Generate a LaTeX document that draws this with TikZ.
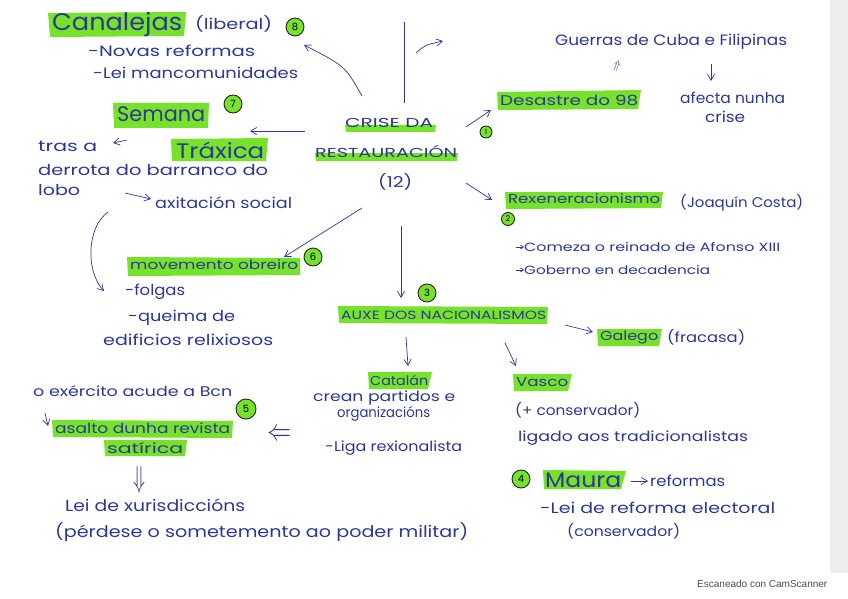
\documentclass[tikz,border=0pt]{standalone}
\usepackage{fontspec}
\usepackage{graphicx}
\setmainfont{Poppins}
\newfontfamily\scanfont{Liberation Sans}
\usetikzlibrary{arrows.meta}
\definecolor{ink}{RGB}{45,55,150}
\definecolor{hlg}{RGB}{118,226,44}
\newcommand{\fw}[2]{\resizebox{#1pt}{\height}{#2}}
\newcommand{\fs}[1]{\fontsize{#1}{#1}\selectfont}
\tikzset{
  txt/.style={anchor=west, inner sep=0pt, text=ink},
  hl/.style={fill=hlg},
  badge/.style={circle, draw=black!85, fill=hlg, line width=0.9pt, inner sep=0pt, font=\fs{10}, text=black},
  arr/.style={draw=ink, line width=0.7pt, -{Straight Barb[length=6pt,width=7pt]}},
  ln/.style={draw=ink, line width=0.7pt}
}
\begin{document}
\begin{tikzpicture}[x=1pt,y=-1pt]
\useasboundingbox (0,0) rectangle (848,599);
\fill[white] (0,0) rectangle (848,599);
\fill[black!7] (830,0) rectangle (848,573);
% ---- highlights
\fill[hl] (48,13) -- (186,12) -- (184,36) -- (50,37) -- cycle;
\fill[hl] (113,103) -- (209,103) -- (208,128) -- (114,128) -- cycle;
\fill[hl] (171,139) -- (268,138) -- (266,161) -- (172,161) -- cycle;
\fill[hl] (345,125) -- (436,125) -- (435,132) -- (346,132) -- cycle;
\fill[hl] (315,153) -- (458,153) -- (457,161) -- (316,161) -- cycle;
\fill[hl] (497,92) -- (641,90) -- (638,109) -- (498,110) -- cycle;
\fill[hl] (505,192) -- (663,192) -- (661,208) -- (506,209) -- cycle;
\fill[hl] (127,257) -- (300,258) -- (300,275) -- (128,276) -- cycle;
\fill[hl] (338,306) -- (548,307) -- (547,324) -- (339,323) -- cycle;
\fill[hl] (597,329) -- (662,329) -- (659,346) -- (598,346) -- cycle;
\fill[hl] (368,372) -- (432,372) -- (428,389) -- (369,389) -- cycle;
\fill[hl] (513,374) -- (572,374) -- (568,391) -- (514,391) -- cycle;
\fill[hl] (543,470) -- (626,471) -- (621,489) -- (544,489) -- cycle;
\fill[hl] (52,420) -- (233,421) -- (232,438) -- (53,437) -- cycle;
\fill[hl] (104,440) -- (187,440) -- (185,456) -- (105,456) -- cycle;
% ---- texts
\node[txt, font=\fs{24}] (canalejas) at (52,24) {\fw{130}{Canalejas}};
\node[txt, font=\fs{15}] (liberal) at (195,24) {\fw{77}{(liberal)}};
\node[badge, minimum size=18pt] (b8) at (295,27) {8};
\node[txt, font=\fs{15}] (novas) at (88,51) {\fw{167}{-Novas reformas}};
\node[txt, font=\fs{15}] (lei) at (93,73) {\fw{205}{-Lei mancomunidades}};
\node[txt, font=\fs{21}] (semana) at (117,114) {\fw{88}{Semana}};
\node[badge, minimum size=18pt] (b7) at (233,104) {7};
\node[txt, font=\fs{21}] (traxica) at (176,150) {\fw{88}{Tráxica}};
\node[txt, font=\fs{15}] (tras) at (38,146) {\fw{59}{tras a}};
\node[txt, font=\fs{15}] (derrota) at (38,170) {\fw{230}{derrota do barranco do}};
\node[txt, font=\fs{15}] (lobo) at (38,190) {\fw{42}{lobo}};
\node[txt, font=\fs{15}] (axit) at (155,203) {\fw{137}{axitación social}};
\node[txt, font=\fs{13}] (crise) at (345,123) {\fw{88}{CRISE DA}};
\node[txt, font=\fs{13}] (rest) at (315,152) {\fw{142}{RESTAURACIÓN}};
\node[txt, font=\fs{15}] (doce) at (378,182) {\fw{34}{(12)}};
\node[txt, font=\fs{14}] (desastre) at (500,100) {\fw{138}{Desastre do 98}};
\node[badge, minimum size=12pt, font=\fs{7}] (b1) at (486,132) {1};
\node[txt, font=\fs{15}] (guerras) at (555,42) {\fw{232}{Guerras de Cuba e Filipinas}};
\node[text=ink, inner sep=0pt, rotate=-20, font=\fs{12}] (upar) at (617,66) {$\Uparrow$};
\node[txt, font=\fs{15}] (afecta) at (680,98) {\fw{105}{afecta nunha}};
\node[txt, font=\fs{15}] (crise2) at (705,117) {\fw{40}{crise}};
\node[txt, font=\fs{13}] (rexen) at (508,199) {\fw{152}{Rexeneracionismo}};
\node[txt, font=\fs{14}] (costa) at (680,203) {\fw{123}{(Joaquín Costa)}};
\node[badge, minimum size=13pt, font=\fs{8}] (b2) at (508,219) {2};
\node[txt, font=\fs{12}] (comeza) at (524,247) {\fw{256}{Comeza o reinado de Afonso XIII}};
\node[txt, font=\fs{12}] (goberno) at (524,270) {\fw{186}{Goberno en decadencia}};
\node[txt, font=\fs{13}] (obreiro) at (130,265) {\fw{168}{movemento obreiro}};
\node[badge, minimum size=18pt] (b6) at (313,257) {6};
\node[txt, font=\fs{15}] (folgas) at (125,292) {\fw{60}{-folgas}};
\node[txt, font=\fs{15}] (queima) at (128,318) {\fw{107}{-queima de}};
\node[txt, font=\fs{15}] (edif) at (103,340) {\fw{170}{edificios relixiosos}};
\node[txt, font=\fs{12}] (auxe) at (341,315) {\fw{205}{AUXE DOS NACIONALISMOS}};
\node[badge, minimum size=18pt] (b3) at (427,293) {3};
\node[txt, font=\fs{13}] (galego) at (600,337) {\fw{58}{Galego}};
\node[txt, font=\fs{14}] (fracasa) at (667,337) {\fw{78}{(fracasa)}};
\node[txt, font=\fs{13}] (catalan) at (370,380) {\fw{58}{Catalán}};
\node[txt, font=\fs{14}] (crean) at (313,398) {\fw{142}{crean partidos e}};
\node[txt, font=\fs{14}] (organ) at (337,414) {\fw{93}{organizacións}};
\node[txt, font=\fs{14}] (liga) at (325,448) {\fw{137}{-Liga rexionalista}};
\node[txt, font=\fs{13}] (vasco) at (516,382) {\fw{52}{Vasco}};
\node[txt, font=\fs{14}] (conserv) at (515,410) {\fw{125}{(+ conservador)}};
\node[txt, font=\fs{14}] (ligado) at (518,438) {\fw{230}{ligado aos tradicionalistas}};
\node[badge, minimum size=18pt] (b4) at (521,479) {4};
\node[txt, font=\fs{21}] (maura) at (545,480) {\fw{76}{Maura}};
\node[txt, font=\fs{15}] (reformas) at (650,481) {\fw{75}{reformas}};
\node[txt, font=\fs{15}] (leiref) at (540,508) {\fw{235}{-Lei de reforma electoral}};
\node[txt, font=\fs{14}] (conserv2) at (567,531) {\fw{113}{(conservador)}};
\node[txt, font=\fs{14}] (exercito) at (33,391) {\fw{199}{o exército acude a Bcn}};
\node[badge, minimum size=20pt] (b5) at (246,409) {5};
\node[txt, font=\fs{14}] (asalto) at (55,428) {\fw{175}{asalto dunha revista}};
\node[txt, font=\fs{14}] (satirica) at (107,448) {\fw{76}{satírica}};
\node[text=ink, inner sep=0pt] (leftarr) at (279,435) {\resizebox{24pt}{11pt}{$\Leftarrow$}};
\node[text=ink, inner sep=0pt] (downarr) at (139,480) {\resizebox{12pt}{21pt}{$\Downarrow$}};
\node[txt, font=\fs{16}] (xuris) at (65,505) {\fw{180}{Lei de xurisdiccións}};
\node[txt, font=\fs{16}] (perdese) at (55,532) {\fw{413}{(pérdese o sometemento ao poder militar)}};
\node[anchor=west, inner sep=0pt, text=black!70, font=\scanfont\fs{10}] (scan) at (697,584) {Escaneado con CamScanner};
% ---- free ends
\coordinate (c1s) at (362,96);  \coordinate (c1e) at (304,45);
\coordinate (v1) at (404,22);   \coordinate (v2) at (404,103);
\coordinate (s1) at (416,53);   \coordinate (s2) at (443,41);
\coordinate (t1) at (305,131);  \coordinate (t2) at (250,131);
\coordinate (d1) at (466,127);  \coordinate (d2) at (491,110);
\coordinate (r1) at (466,183);  \coordinate (r2) at (492,200);
\coordinate (m1) at (362,208);  \coordinate (m2) at (284,257);
\coordinate (a1) at (401,226);  \coordinate (a2) at (401,298);
\coordinate (g1) at (565,325);  \coordinate (g2) at (593,332);
\coordinate (k1) at (406,337);  \coordinate (k2) at (408,366);
\coordinate (q1) at (505,343);  \coordinate (q2) at (516,366);
\coordinate (l1) at (108,212);  \coordinate (l2) at (104,291);
\coordinate (x1) at (125,193);  \coordinate (x2) at (151,199);
\coordinate (f1) at (711,64);   \coordinate (f2) at (711,81);
\coordinate (p1) at (127,140);  \coordinate (p2) at (113,143);
\coordinate (e1) at (45,413);   \coordinate (e2) at (48,426);
\coordinate (h1) at (516,247);  \coordinate (h2) at (524,247);
\coordinate (h3) at (516,270);  \coordinate (h4) at (524,270);
\coordinate (h5) at (631,481);  \coordinate (h6) at (648,481);
% ---- connectors
\draw[arr] (c1s) .. controls (345,66) .. (c1e);
\draw[ln] (v1) -- (v2);
\draw[arr] (s1) .. controls (425,45) .. (s2);
\draw[arr] (t1) -- (t2);
\draw[arr] (d1) -- (d2);
\draw[arr] (r1) -- (r2);
\draw[arr] (m1) -- (m2);
\draw[arr] (a1) -- (a2);
\draw[arr] (g1) -- (g2);
\draw[arr] (k1) -- (k2);
\draw[arr] (q1) -- (q2);
\draw[arr] (l1) .. controls (86,228) and (86,272) .. (l2);
\draw[arr] (x1) -- (x2);
\draw[arr] (f1) -- (f2);
\draw[arr] (p1) -- (p2);
\draw[arr] (e1) -- (e2);
\draw[arr, -{Straight Barb[length=3pt,width=4pt]}] (h1) -- (h2);
\draw[arr, -{Straight Barb[length=3pt,width=4pt]}] (h3) -- (h4);
\draw[arr] (h5) -- (h6);
\end{tikzpicture}
\end{document}
